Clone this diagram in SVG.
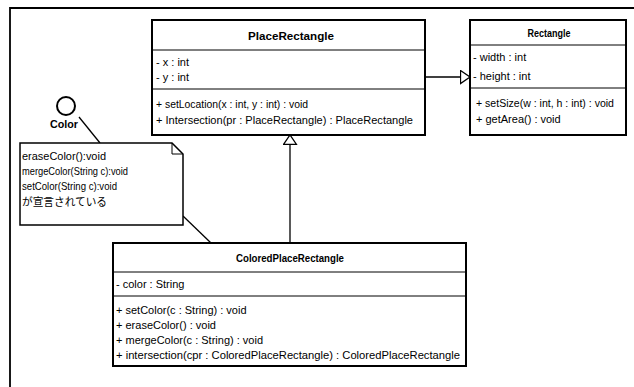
<svg xmlns="http://www.w3.org/2000/svg" width="634" height="387" viewBox="0 0 634 387">
<defs>
<style>
.box{fill:#fff;stroke:#000;stroke-width:2}
.div{stroke:#000;stroke-width:1}
.t{font-family:"Liberation Sans",Arial,sans-serif;font-size:11px;fill:#000}
.h{font-family:"Liberation Sans",Arial,sans-serif;font-size:11px;font-weight:bold;fill:#000}
.jp{font-family:"Liberation Sans","Noto Sans CJK JP",sans-serif;font-size:11px;fill:#000}
.ln{stroke:#000;stroke-width:1.3;fill:none}
</style>
<marker id="gen" markerUnits="userSpaceOnUse" markerWidth="12" markerHeight="16" refX="10" refY="7" orient="auto" viewBox="0 0 12 16">
<path d="M0.5,0.5 L10,7 L0.5,13.5 Z" fill="#fff" stroke="#000" stroke-width="1.3"/>
</marker>
</defs>
<rect width="634" height="387" fill="#fff"/>
<g id="frame">
<path d="M10,387 L10,8 L634,8" fill="none" stroke="#000" stroke-width="1.8"/>
</g>
<g id="connectors">
<line class="ln" x1="425" y1="77" x2="470" y2="77" marker-end="url(#gen)"/>
<line class="ln" x1="290" y1="243" x2="290" y2="135" marker-end="url(#gen)"/>
<line class="ln" x1="79" y1="117" x2="100" y2="143"/>
<line class="ln" x1="183" y1="216" x2="211" y2="243"/>
</g>
<g id="PlaceRectangle">
<rect class="box" x="152" y="20" width="273" height="115"/>
<line class="div" x1="152" y1="50" x2="425" y2="50"/>
<line class="div" x1="152" y1="89" x2="425" y2="89"/>
<text class="h" x="291" y="40" text-anchor="middle" textLength="86" lengthAdjust="spacingAndGlyphs">PlaceRectangle</text>
<text class="t" x="156" y="66">- x : int</text>
<text class="t" x="156" y="81">- y : int</text>
<text class="t" x="156" y="108" textLength="152" lengthAdjust="spacingAndGlyphs">+ setLocation(x : int, y : int) : void</text>
<text class="t" x="156" y="124" textLength="257" lengthAdjust="spacingAndGlyphs">+ Intersection(pr : PlaceRectangle) : PlaceRectangle</text>
</g>
<g id="Rectangle">
<rect class="box" x="470" y="20" width="156" height="115"/>
<line class="div" x1="470" y1="45" x2="626" y2="45"/>
<line class="div" x1="470" y1="88" x2="626" y2="88"/>
<text class="h" x="549" y="37" text-anchor="middle" textLength="43" lengthAdjust="spacingAndGlyphs">Rectangle</text>
<text class="t" x="473" y="61">- width : int</text>
<text class="t" x="473" y="80">- height : int</text>
<text class="t" x="476" y="107" textLength="138" lengthAdjust="spacingAndGlyphs">+ setSize(w : int, h : int) : void</text>
<text class="t" x="476" y="123">+ getArea() : void</text>
</g>
<g id="ColoredPlaceRectangle">
<rect class="box" x="113" y="243" width="353" height="123"/>
<line class="div" x1="113" y1="272" x2="466" y2="272"/>
<line class="div" x1="113" y1="296" x2="466" y2="296"/>
<text class="h" x="290" y="262" text-anchor="middle" textLength="108" lengthAdjust="spacingAndGlyphs">ColoredPlaceRectangle</text>
<text class="t" x="116" y="288">- color : String</text>
<text class="t" x="116" y="314">+ setColor(c : String) : void</text>
<text class="t" x="116" y="329">+ eraseColor() : void</text>
<text class="t" x="116" y="344">+ mergeColor(c : String) : void</text>
<text class="t" x="116" y="359" textLength="344" lengthAdjust="spacingAndGlyphs">+ intersection(cpr : ColoredPlaceRectangle) : ColoredPlaceRectangle</text>
</g>
<g id="Color">
<circle cx="66" cy="106" r="9" fill="#fff" stroke="#000" stroke-width="2"/>
<text class="h" x="64" y="128" text-anchor="middle" textLength="28" lengthAdjust="spacingAndGlyphs">Color</text>
</g>
<g id="Note">
<path d="M20,143 L172,143 L183,154 L183,225 L20,225 Z" fill="#fff" stroke="#000" stroke-width="1.5"/>
<path d="M172,143 L172,154 L183,154" fill="none" stroke="#000" stroke-width="1"/>
<text class="t" x="22" y="160" textLength="84" lengthAdjust="spacingAndGlyphs">eraseColor():void</text>
<text class="t" x="22" y="175" textLength="106" lengthAdjust="spacingAndGlyphs">mergeColor(String c):void</text>
<text class="t" x="22" y="190" textLength="95" lengthAdjust="spacingAndGlyphs">setColor(String c):void</text>
<text class="jp" x="22" y="206" textLength="85" lengthAdjust="spacingAndGlyphs">が宣言されている</text>
</g>
</svg>
